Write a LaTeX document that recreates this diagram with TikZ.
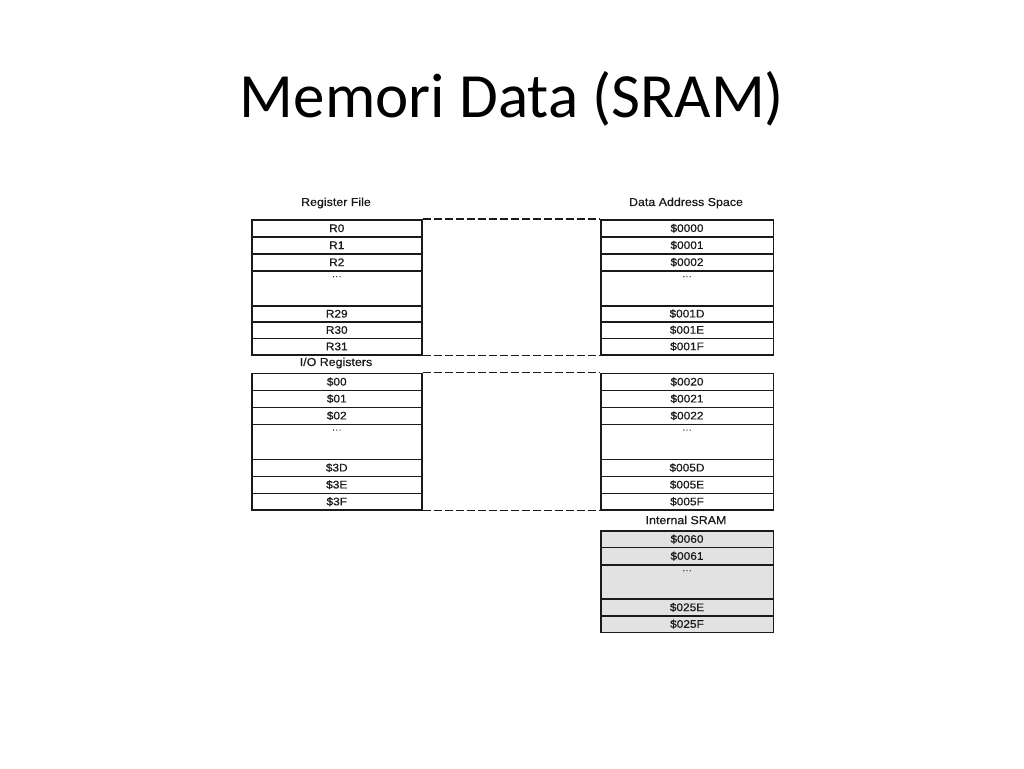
\documentclass[tikz,border=0pt]{standalone}
\usepackage{fontspec}
\newfontfamily\titlefont{Carlito}
\newfontfamily\dgfont[FakeStretch=1.08,FakeBold=0.6]{Liberation Sans}
\definecolor{ink}{HTML}{1A1A1A}
\definecolor{sramfill}{HTML}{E2E2E2}
\begin{document}
\begin{tikzpicture}[x=1pt,y=-1pt,
  cellL/.style={draw=ink, line width=1.5pt, rectangle, inner sep=0pt, anchor=north west,
    minimum width=170pt, font=\dgfont\fontsize{11}{12}\selectfont, text=ink},
  cellR/.style={cellL, minimum width=172.5pt},
  sram/.style={cellR, fill=sramfill},
  lbl/.style={font=\dgfont\fontsize{11.5}{13}\selectfont, text=ink, inner sep=0pt},
  dots/.style={font=\dgfont\fontsize{9}{10}\selectfont, text=ink, inner sep=0pt, anchor=north},
  dashline/.style={draw=ink, line width=1.1pt, dash pattern=on 8pt off 3pt}
]
\useasboundingbox (0,0) rectangle (1024,768);

% title
\node[font=\titlefont\fontsize{63}{70}\selectfont, anchor=base, inner sep=0pt] (title) at (512,117) {Memori Data (SRAM)};

% headers
\node[lbl] (hRF) at (336,203) {Register File};
\node[lbl] (hDA) at (686,203) {Data Address Space};
\node[lbl] (hIO) at (336,363) {I/O Registers};
\node[lbl] (hSR) at (686,520) {Internal SRAM};

% ---- Register file (left)
\node[cellL, minimum height=17pt] (r0) at (251,219) {R0};
\node[cellL, minimum height=17pt] (r1) at (251,236) {R1};
\node[cellL, minimum height=17pt] (r2) at (251,253) {R2};
\node[cellL, minimum height=35pt] (rd) at (251,270) {};
\node[dots] (rdt) at ([yshift=-6pt]rd.north) {···};
\node[cellL, minimum height=16pt] (r29) at (251,305) {R29};
\node[cellL, minimum height=16.5pt] (r30) at (251,321) {R30};
\node[cellL, minimum height=16.5pt] (r31) at (251,337.5) {R31};

% ---- Data address (right, upper)
\node[cellR, minimum height=17pt] (a0) at (600,219) {\$0000};
\node[cellR, minimum height=17pt] (a1) at (600,236) {\$0001};
\node[cellR, minimum height=17pt] (a2) at (600,253) {\$0002};
\node[cellR, minimum height=35pt] (ad) at (600,270) {};
\node[dots] (adt) at ([yshift=-6pt]ad.north) {···};
\node[cellR, minimum height=16pt] (a1d) at (600,305) {\$001D};
\node[cellR, minimum height=16.5pt] (a1e) at (600,321) {\$001E};
\node[cellR, minimum height=16.5pt] (a1f) at (600,337.5) {\$001F};

\draw[dashline] (r0.north east) -- (a0.north west);
\draw[dashline] (r31.south east) -- (a1f.south west);

% ---- I/O registers (left)
\node[cellL, minimum height=16.8pt] (io0) at (251,372.7) {\$00};
\node[cellL, minimum height=17pt] (io1) at (251,389.5) {\$01};
\node[cellL, minimum height=17pt] (io2) at (251,406.5) {\$02};
\node[cellL, minimum height=35pt] (iod) at (251,423.5) {};
\node[dots] (iodt) at ([yshift=-6pt]iod.north) {···};
\node[cellL, minimum height=17pt] (io3d) at (251,458.5) {\$3D};
\node[cellL, minimum height=17pt] (io3e) at (251,475.5) {\$3E};
\node[cellL, minimum height=16.8pt] (io3f) at (251,492.5) {\$3F};

% ---- Data address (right, I/O)
\node[cellR, minimum height=16.8pt] (b0) at (600,372.7) {\$0020};
\node[cellR, minimum height=17pt] (b1) at (600,389.5) {\$0021};
\node[cellR, minimum height=17pt] (b2) at (600,406.5) {\$0022};
\node[cellR, minimum height=35pt] (bd) at (600,423.5) {};
\node[dots] (bdt) at ([yshift=-6pt]bd.north) {···};
\node[cellR, minimum height=17pt] (b5d) at (600,458.5) {\$005D};
\node[cellR, minimum height=17pt] (b5e) at (600,475.5) {\$005E};
\node[cellR, minimum height=16.8pt] (b5f) at (600,492.5) {\$005F};

\draw[dashline] (io0.north east) -- (b0.north west);
\draw[dashline] (io3f.south east) -- (b5f.south west);

% ---- Internal SRAM
\node[sram, minimum height=16.7pt] (s0) at (600,530) {\$0060};
\node[sram, minimum height=17.3pt] (s1) at (600,546.7) {\$0061};
\node[sram, minimum height=34.3pt] (sd) at (600,564) {};
\node[dots] (sdt) at ([yshift=-6pt]sd.north) {···};
\node[sram, minimum height=16.7pt] (s25e) at (600,598.3) {\$025E};
\node[sram, minimum height=16.7pt] (s25f) at (600,615) {\$025F};
\end{tikzpicture}
\end{document}
